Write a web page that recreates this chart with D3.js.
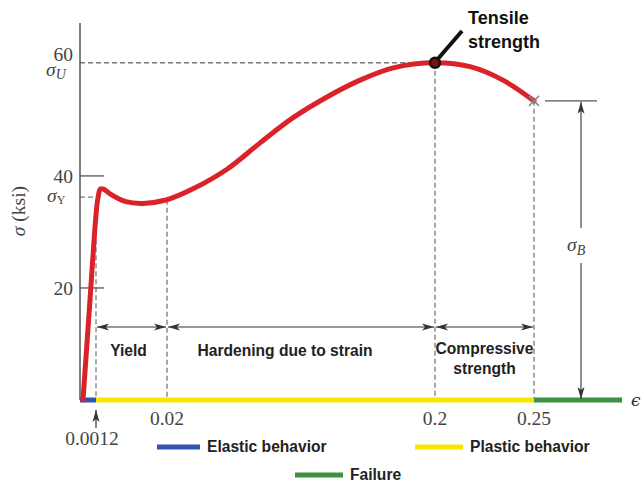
<!DOCTYPE html>
<html><head><meta charset="utf-8">
<script src="https://cdn.jsdelivr.net/npm/d3@7"></script>
<style>body{margin:0;background:#fff}svg{display:block}</style>
</head><body><svg id="c" width="644" height="483"></svg>
<script>
// ---- data ----
const strain = [0.000225, 0.00071, 0.0012, 0.00168, 0.00239, 0.00332, 0.00491, 0.00914, 0.01364, 0.01974, 0.0375, 0.0603, 0.0825, 0.1047, 0.1275, 0.1497, 0.1719, 0.2, 0.2177, 0.2343, 0.25];
const stress = [0, 16.5, 33.0, 35.9, 37.7, 37.6, 36.8, 35.4, 35.1, 35.7, 37.7, 41.2, 45.9, 50.4, 54.1, 57.1, 59.3, 60.2, 59.5, 57.1, 53.4];
const xTickValues = [0.02, 0.2, 0.25];
const xTickLabels = ["0.02", "0.2", "0.25"];
const yTickValues = [20, 40];
const yTickLabels = ["20", "40"];
const sigmaU = 60.2, sigmaY = 36.2, sigmaB = 53.4;
const yieldStrain = 0.0012, tensileStrain = 0.2, breakStrain = 0.25, hardenStrain = 0.02, axisEnd = 0.29;
const phaseNames = ["Elastic behavior", "Plastic behavior", "Failure"];
const phaseStart = [0, 0.0012, 0.25];
const phaseEnd = [0.0012, 0.25, 0.29];
const phaseColors = ["#3454b4", "#f7e600", "#3f9142"];
const regionLabels = [["Yield"], ["Hardening due to strain"], ["Compressive", "strength"]];
const regionStart = [0.0012, 0.02, 0.2];
const regionEnd = [0.02, 0.2, 0.25];

// ---- scales ----
const x = d3.scaleLinear().domain([0, 0.0012, 0.02, 0.2, 0.25, 0.29]).range([80, 96, 167, 435, 534, 622]);
const y = d3.scaleLinear().domain([0, 67.3]).range([400, 23]);
const svg = d3.select("#c");
const serif = "'Liberation Serif', 'DejaVu Serif', serif";
const sans = "'Liberation Sans', Arial, sans-serif";
const dashCol = "#7a7a7a";
const numSize = 19.5, labSize = 15.6;

const defs = svg.append("defs");
defs.append("marker").attr("id", "ah").attr("viewBox", "0 -5 12 10").attr("refX", 12).attr("refY", 0)
  .attr("markerWidth", 12).attr("markerHeight", 10).attr("markerUnits", "userSpaceOnUse").attr("orient", "auto-start-reverse")
  .append("path").attr("d", "M0,-3.5L12,0L0,3.5L3,0Z").attr("fill", "#333");

function stressAt(s) {
  const i = d3.bisectLeft(strain, s);
  if (i <= 0) return stress[0];
  if (i >= strain.length) return stress[stress.length - 1];
  const t = (s - strain[i - 1]) / (strain[i] - strain[i - 1]);
  return stress[i - 1] + t * (stress[i] - stress[i - 1]);
}

// dashed guides
const g = svg.append("g").attr("stroke", dashCol).attr("stroke-width", 1.3).attr("stroke-dasharray", "5,3").attr("fill", "none");
g.append("line").attr("x1", x(0)).attr("x2", x(tensileStrain)).attr("y1", y(sigmaU)).attr("y2", y(sigmaU));
g.append("line").attr("x1", x(0)).attr("x2", x(0.0013)).attr("y1", y(sigmaY)).attr("y2", y(sigmaY));
[yieldStrain, hardenStrain, tensileStrain, breakStrain].forEach(s => {
  g.append("line").attr("x1", x(s)).attr("x2", x(s)).attr("y1", y(stressAt(s))).attr("y2", y(0));
});

// y axis
svg.append("line").attr("x1", x(0)).attr("x2", x(0)).attr("y1", y(67.3)).attr("y2", y(0)).attr("stroke", "#555").attr("stroke-width", 1.5);
yTickValues.forEach((v, i) => {
  svg.append("line").attr("x1", x(0)).attr("x2", x(0) + 24).attr("y1", y(v)).attr("y2", y(v)).attr("stroke", "#555").attr("stroke-width", 1.3);
  svg.append("text").attr("x", 73).attr("y", y(v)).attr("dy", "0.35em").attr("text-anchor", "end")
    .attr("font-family", serif).attr("font-size", numSize).attr("fill", "#444").text(yTickLabels[i]);
});
svg.append("text").attr("x", 73).attr("y", y(sigmaU) - 9).attr("dy", "0.35em").attr("text-anchor", "end")
  .attr("font-family", serif).attr("font-size", numSize).attr("fill", "#444").text("60");
const su = svg.append("text").attr("x", 46).attr("y", y(sigmaU) + 13).attr("font-family", serif).attr("font-size", numSize).attr("fill", "#444");
su.append("tspan").attr("font-style", "italic").text("σ");
su.append("tspan").attr("font-style", "italic").attr("font-size", 14).attr("dy", 3).text("U");
const sy = svg.append("text").attr("x", 47).attr("y", y(sigmaY) + 5).attr("font-family", serif).attr("font-size", numSize).attr("fill", "#444");
sy.append("tspan").attr("font-style", "italic").text("σ");
sy.append("tspan").attr("font-size", 12).attr("dy", 2).text("Y");
const yt = svg.append("text").attr("transform", "translate(25,211) rotate(-90)").attr("text-anchor", "middle")
  .attr("font-family", serif).attr("font-size", numSize).attr("fill", "#444");
yt.append("tspan").attr("font-style", "italic").text("σ");
yt.append("tspan").text(" (ksi)");

// x axis phases
phaseNames.forEach((n, i) => {
  svg.append("line").attr("x1", x(phaseStart[i])).attr("x2", x(phaseEnd[i])).attr("y1", y(0)).attr("y2", y(0))
    .attr("stroke", phaseColors[i]).attr("stroke-width", 5);
});
xTickValues.forEach((v, i) => {
  svg.append("text").attr("x", x(v)).attr("y", 418).attr("dy", "0.35em").attr("text-anchor", "middle")
    .attr("font-family", serif).attr("font-size", numSize).attr("fill", "#444").text(xTickLabels[i]);
});
svg.append("text").attr("x", 92).attr("y", 438).attr("dy", "0.35em").attr("text-anchor", "middle")
  .attr("font-family", serif).attr("font-size", numSize).attr("fill", "#444").text("0.0012");
svg.append("line").attr("x1", x(yieldStrain)).attr("x2", x(yieldStrain)).attr("y1", 428).attr("y2", 410)
  .attr("stroke", "#333").attr("stroke-width", 1.2).attr("marker-end", "url(#ah)");
svg.append("text").attr("x", 631).attr("y", 400).attr("dy", "0.35em").attr("font-family", "'DejaVu Serif', serif").attr("font-style", "italic")
  .attr("font-size", 17).attr("fill", "#333").text("ϵ");

// region dimension arrows
const labelShift = [-3, -16, 0];
regionLabels.forEach((lines, i) => {
  const x1 = x(regionStart[i]), x2 = x(regionEnd[i]);
  svg.append("line").attr("x1", x1 + 1).attr("x2", x2 - 1).attr("y1", 327).attr("y2", 327)
    .attr("stroke", "#333").attr("stroke-width", 1.1).attr("marker-start", "url(#ah)").attr("marker-end", "url(#ah)");
  const t = svg.append("text").attr("text-anchor", "middle").attr("font-family", sans).attr("font-weight", "bold")
    .attr("font-size", labSize).attr("fill", "#222");
  lines.forEach((l, k) => t.append("tspan").attr("x", (x1 + x2) / 2 + labelShift[i]).attr("y", 356 + k * 20 - (lines.length > 1 ? 2 : 0)).text(l));
});

// sigma_B dimension
svg.append("line").attr("x1", 545).attr("x2", 597).attr("y1", y(sigmaB)).attr("y2", y(sigmaB)).attr("stroke", "#555").attr("stroke-width", 1.3);
svg.append("line").attr("x1", 581).attr("x2", 581).attr("y1", 228).attr("y2", y(sigmaB) + 1)
  .attr("stroke", "#444").attr("stroke-width", 1.2).attr("marker-end", "url(#ah)");
svg.append("line").attr("x1", 581).attr("x2", 581).attr("y1", 263).attr("y2", y(0) - 1)
  .attr("stroke", "#444").attr("stroke-width", 1.2).attr("marker-end", "url(#ah)");
const sb = svg.append("text").attr("x", 567).attr("y", 251).attr("font-family", serif).attr("font-size", numSize).attr("fill", "#444");
sb.append("tspan").attr("font-style", "italic").text("σ");
sb.append("tspan").attr("font-style", "italic").attr("font-size", 14).attr("dy", 4).text("B");

// curve
const line = d3.line().x((d, i) => x(strain[i])).y((d, i) => y(stress[i])).curve(d3.curveCatmullRom.alpha(0.5));
svg.append("path").datum(stress).attr("d", line).attr("fill", "none").attr("stroke", "#dc2229").attr("stroke-width", 5)
  .attr("stroke-linecap", "round").attr("stroke-linejoin", "round");

// break cross
const bx = x(breakStrain), by = y(sigmaB);
svg.append("path").attr("d", `M${bx - 5},${by - 5}L${bx + 5},${by + 5}M${bx - 5},${by + 5}L${bx + 5},${by - 5}`)
  .attr("stroke", "#888").attr("stroke-width", 1.5);

// tensile strength marker
const tx = x(tensileStrain), ty = y(sigmaU);
svg.append("line").attr("x1", tx + 3).attr("y1", ty - 4).attr("x2", 462).attr("y2", 31).attr("stroke", "#111").attr("stroke-width", 4);
svg.append("circle").attr("cx", tx).attr("cy", ty).attr("r", 5).attr("fill", "#7a1010").attr("stroke", "#111").attr("stroke-width", 2.5);
const ts = svg.append("text").attr("font-family", sans).attr("font-weight", "bold").attr("font-size", 18).attr("fill", "#111");
ts.append("tspan").attr("x", 468).attr("y", 24).text("Tensile");
ts.append("tspan").attr("x", 468).attr("y", 48).text("strength");

// legend
const legX = [157, 415, 295], legY = [447, 447, 475], legLen = [43, 48, 48];
phaseNames.forEach((n, i) => {
  svg.append("line").attr("x1", legX[i]).attr("x2", legX[i] + legLen[i]).attr("y1", legY[i]).attr("y2", legY[i])
    .attr("stroke", phaseColors[i]).attr("stroke-width", 5);
  svg.append("text").attr("x", legX[i] + legLen[i] + 7).attr("y", legY[i]).attr("dy", "0.35em").attr("font-family", sans)
    .attr("font-weight", "bold").attr("font-size", labSize).attr("fill", "#222").text(n);
});
</script></body></html>
